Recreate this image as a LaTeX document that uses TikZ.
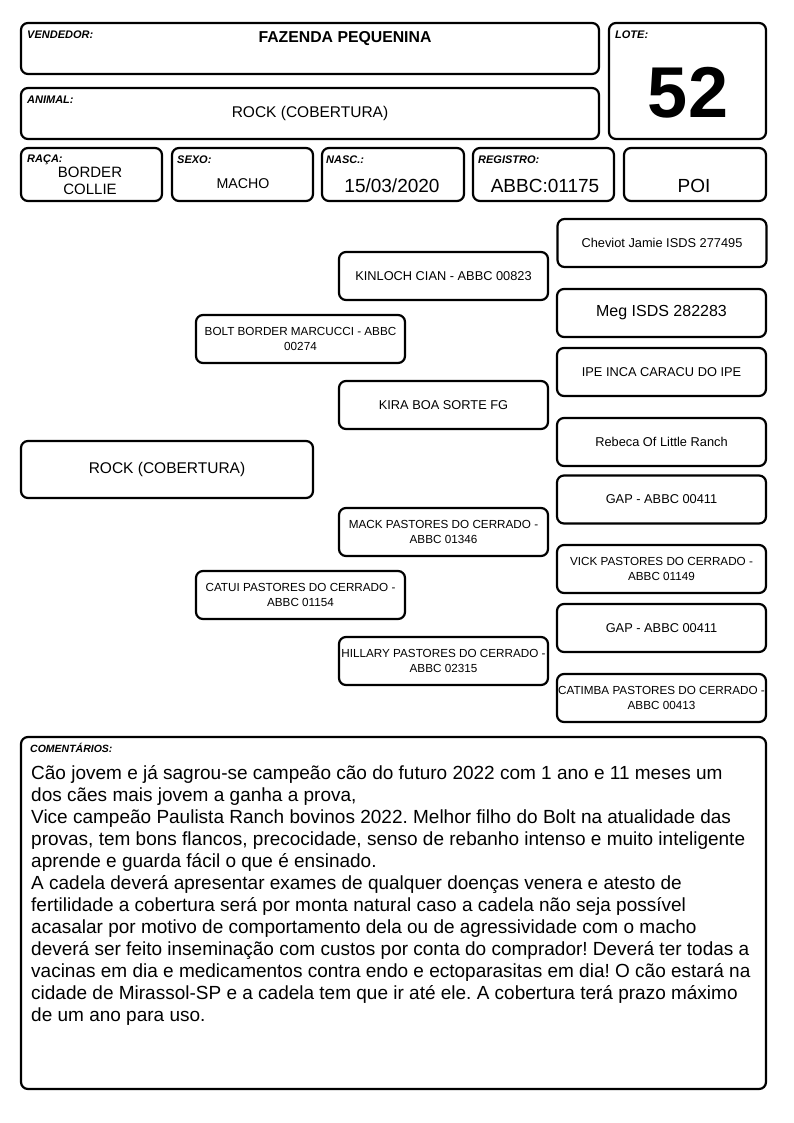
\documentclass[tikz,border=0pt]{standalone}
\usepackage{fontspec}
\setmainfont{Liberation Sans}
\frenchspacing
\begin{document}
\begin{tikzpicture}[x=1pt,y=-1pt,
  box/.style={draw, line width=2.2pt, rounded corners=7pt, inner sep=0pt},
  pbox/.style={box, minimum width=209, minimum height=48, align=center, font=\fontsize{12.8}{15}\selectfont},
  pbox2/.style={box, minimum width=209, minimum height=48, align=center, font=\fontsize{11.7}{15.5}\selectfont},
  lbl/.style={anchor=base west, inner sep=0pt, font=\fontsize{11}{12}\selectfont\bfseries\itshape},
  val/.style={inner sep=0pt, align=center}]
\useasboundingbox (0,0) rectangle (794,1123);
\fill[white] (0,0) rectangle (794,1123);

% header boxes
\node[box, minimum width=578, minimum height=51] (vend) at (310,48.5) {};
\node[box, minimum width=157, minimum height=116] (lote) at (687.5,81) {};
\node[box, minimum width=578, minimum height=51] (animal) at (310,113.5) {};
\node[box, minimum width=141, minimum height=53] (raca) at (91.5,174.5) {};
\node[box, minimum width=141, minimum height=53] (sexo) at (242.5,174.5) {};
\node[box, minimum width=142, minimum height=53] (nasc) at (393,174.5) {};
\node[box, minimum width=141, minimum height=53] (reg) at (543.5,174.5) {};
\node[box, minimum width=142, minimum height=53] (poi) at (695,174.5) {};

\node[lbl] (lvend) at (27,39) {VENDEDOR:};
\node[val, font=\fontsize{15.8}{18}\selectfont\bfseries] (tvend) at (345,38.5) {FAZENDA PEQUENINA};
\node[lbl] (llote) at (615,39) {LOTE:};
\node[val, font=\fontsize{72}{72}\selectfont\bfseries] (tlote) at (688,93) {52};
\node[lbl] (lanimal) at (27,104) {ANIMAL:};
\node[val, font=\fontsize{15.5}{18}\selectfont] (tanimal) at (310,113.5) {ROCK (COBERTURA)};
\node[lbl] (lraca) at (27,163) {RAÇA:};
\node[val, font=\fontsize{15}{17}\selectfont] (traca) at (90,180.5) {BORDER\\COLLIE};
\node[lbl] (lsexo) at (177,164) {SEXO:};
\node[val, font=\fontsize{14.2}{17}\selectfont] (tsexo) at (243,184) {MACHO};
\node[lbl] (lnasc) at (326,164) {NASC.:};
\node[val, font=\fontsize{19}{22}\selectfont] (tnasc) at (392,186) {15/03/2020};
\node[lbl] (lreg) at (478,164) {REGISTRO:};
\node[val, font=\fontsize{19}{22}\selectfont] (treg) at (545,186) {ABBC:01175};
\node[val, font=\fontsize{19}{22}\selectfont] (tpoi) at (694,186) {POI};

% pedigree
\node[box, minimum width=292, minimum height=57, font=\fontsize{15.5}{18}\selectfont] (rock) at (167,469.5) {ROCK (COBERTURA)};
\node[pbox2] (bolt) at (300.5,339) {BOLT BORDER MARCUCCI - ABBC\\00274};
\node[pbox2] (catui) at (300.5,595) {CATUI PASTORES DO CERRADO -\\ABBC 01154};
\node[pbox] (kinloch) at (443.5,276) {KINLOCH CIAN - ABBC 00823};
\node[pbox] (kira) at (443.5,405) {KIRA BOA SORTE FG};
\node[pbox2] (mack) at (443.5,532) {MACK PASTORES DO CERRADO -\\ABBC 01346};
\node[pbox2] (hillary) at (443.5,661) {HILLARY PASTORES DO CERRADO -\\ABBC 02315};
\node[pbox] (cheviot) at (662,243) {Cheviot Jamie ISDS 277495};
\node[pbox, font=\fontsize{16}{18}\selectfont] (meg) at (661.5,313) {\raisebox{-1.5pt}{Meg ISDS 282283}};
\node[pbox] (ipe) at (661.5,372) {IPE INCA CARACU DO IPE};
\node[pbox] (rebeca) at (661.5,442) {Rebeca Of Little Ranch};
\node[pbox] (gap1) at (661.5,499.5) {GAP - ABBC 00411};
\node[pbox2] (vick) at (661.5,569) {VICK PASTORES DO CERRADO -\\ABBC 01149};
\node[pbox] (gap2) at (661.5,628) {GAP - ABBC 00411};
\node[pbox2] (catimba) at (661.5,698) {CATIMBA PASTORES DO CERRADO -\\ABBC 00413};

% comments
\node[box, minimum width=745, minimum height=352] (coment) at (393.5,913) {};
\node[lbl, font=\fontsize{10.5}{11}\selectfont\bfseries\itshape] (lcoment) at (30,752) {COMENTÁRIOS:};
\node[anchor=north west, inner sep=0pt, align=left, font=\fontsize{19}{22}\selectfont] (tcoment) at (31,765) {Cão jovem e já sagrou-se campeão cão do futuro 2022 com 1 ano e 11 meses um\\
dos cães mais jovem a ganha a prova,\\
Vice campeão Paulista Ranch bovinos 2022. Melhor filho do Bolt na atualidade das\\
provas, tem bons flancos, precocidade, senso de rebanho intenso e muito inteligente\\
aprende e guarda fácil o que é ensinado.\\
A cadela deverá apresentar exames de qualquer doenças venera e atesto de\\
fertilidade a cobertura será por monta natural caso a cadela não seja possível\\
acasalar por motivo de comportamento dela ou de agressividade com o macho\\
deverá ser feito inseminação com custos por conta do comprador! Deverá ter todas a\\
vacinas em dia e medicamentos contra endo e ectoparasitas em dia! O cão estará na\\
cidade de Mirassol-SP e a cadela tem que ir até ele. A cobertura terá prazo máximo\\
de um ano para uso.};
\end{tikzpicture}
\end{document}
